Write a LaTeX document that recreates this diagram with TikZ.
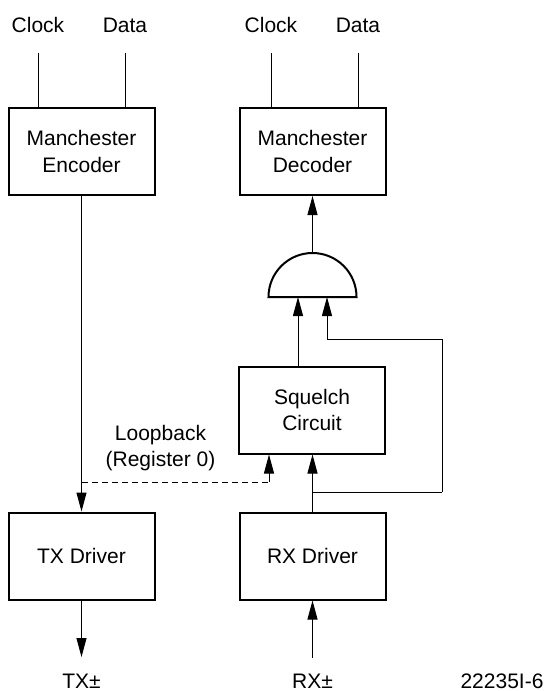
\documentclass[tikz,border=0pt]{standalone}
\usepackage{fontspec}
\setmainfont{Liberation Sans}
\usetikzlibrary{arrows.meta,calc}
\begin{document}
\begin{tikzpicture}[x=1pt,y=-1pt,
  txt/.style={font=\fontsize{21}{26.5}\selectfont, inner sep=0pt, align=center},
  blk/.style={draw, line width=2pt, minimum width=146pt, minimum height=87pt, txt},
  wire/.style={line width=1pt},
  arr/.style={wire, -{Triangle[width=10pt,length=19pt]}},
  dashwire/.style={wire, dash pattern=on 6pt off 4pt}
]
\useasboundingbox (0,0) rectangle (545,691);
% blocks
\node[blk] (enc) at (81.5,151.5) {Manchester\\Encoder};
\node[blk] (dec) at (312.5,151.5) {Manchester\\Decoder};
\node[blk] (sq)  at (312,410) {Squelch\\Circuit};
\node[blk] (tx)  at (81.5,556) {TX Driver};
\node[blk] (rx)  at (312.5,556) {RX Driver};
% top labels
\node[txt, anchor=base] (clkA) at (38,32) {Clock};
\node[txt, anchor=base] (datA) at (125,32) {Data};
\node[txt, anchor=base] (clkB) at (271,32) {Clock};
\node[txt, anchor=base] (datB) at (358,32) {Data};
\coordinate (cA) at (38,53);
\coordinate (dA) at (125,53);
\coordinate (cB) at (271,53);
\coordinate (dB) at (358,53);
\draw[wire] (cA) -- (cA |- enc.north);
\draw[wire] (dA) -- (dA |- enc.north);
\draw[wire] (cB) -- (cB |- dec.north);
\draw[wire] (dB) -- (dB |- dec.north);
% AND gate
\draw[line width=2pt, line join=miter] (268.5,297) arc[start angle=180, end angle=360, radius=44] -- cycle;
\coordinate (gout) at (312.5,253);
\coordinate (gin1) at (298,297);
\coordinate (gin2) at (327,297);
\draw[arr] (gout) -- (dec.south);
\draw[arr] (gin1 |- sq.north) -- (gin1);
\coordinate (fb1) at (327,339);
\coordinate (fb2) at (442,339);
\coordinate (fb3) at (442,492);
\coordinate (jn) at (312.5,492);
\draw[arr] (fb3) -- (fb2) -- (fb1) -- (gin2);
\draw[wire] (fb3) -- (jn);
\draw[arr] (rx.north) -- (sq.south -| rx.north);
% encoder to TX
\draw[arr] (enc.south) -- (tx.north);
% loopback
\coordinate (lb1) at (81.5,482);
\coordinate (lb2) at (269,482);
\draw[dashwire] (lb1) -- (lb2);
\draw[arr] (lb2) -- (lb2 |- sq.south);
\node[txt] (lbl) at (160.5,448) {Loopback\\(Register 0)};
% bottom
\node[txt, anchor=base] (txl) at (81.5,688) {TX\textpm};
\node[txt, anchor=base] (rxl) at (312.5,688) {RX\textpm};
\node[txt, anchor=base] (fig) at (502,688) {22235I-6};
\coordinate (txe) at (81.5,657);
\coordinate (rxs) at (312.5,658);
\draw[arr] (tx.south) -- (txe);
\draw[arr] (rxs) -- (rx.south);
\end{tikzpicture}
\end{document}
